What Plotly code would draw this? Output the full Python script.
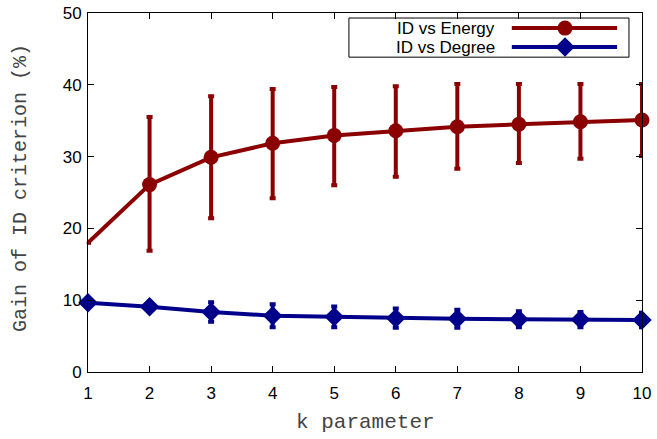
import plotly.graph_objects as go

k_values = [1, 2, 3, 4, 5, 6, 7, 8, 9, 10]

energy_mean = [18.0, 26.1, 29.9, 31.85, 32.95, 33.6, 34.15, 34.5, 34.85, 35.1]
energy_err_up = [0.0, 9.4, 8.5, 7.55, 6.75, 6.2, 5.95, 5.6, 5.25, 5.0]
energy_err_down = [0.0, 9.2, 8.5, 7.65, 6.95, 6.4, 5.85, 5.4, 5.15, 5.0]

degree_mean = [9.64, 9.08, 8.35, 7.85, 7.68, 7.5, 7.42, 7.35, 7.3, 7.25]
degree_err = [0.0, 0.6, 1.35, 1.6, 1.45, 1.35, 1.25, 1.1, 1.05, 1.0]

series_names = ["ID vs Energy", "ID vs Degree"]
x_title = "k parameter"
y_title = "Gain of ID criterion (%)"
y_ticks = [0, 10, 20, 30, 40, 50]

RED = "#8B0000"
BLUE = "#00008B"

fig = go.Figure()

fig.add_trace(go.Scatter(
    x=k_values, y=energy_mean, mode="lines+markers", name=series_names[0],
    line=dict(color=RED, width=4),
    marker=dict(color=RED, size=[3] + [15] * 9, symbol="circle", opacity=1,
                line=dict(width=0)),
    error_y=dict(type="data", symmetric=False, array=energy_err_up,
                 arrayminus=energy_err_down, color=RED, thickness=4, width=3),
    showlegend=False, cliponaxis=False,
))

fig.add_trace(go.Scatter(
    x=k_values, y=degree_mean, mode="lines+markers", name=series_names[1],
    line=dict(color=BLUE, width=4),
    marker=dict(color=BLUE, size=15, symbol="diamond", opacity=1, line=dict(width=0)),
    error_y=dict(type="data", array=degree_err, color=BLUE, thickness=4, width=3),
    showlegend=False, cliponaxis=False,
))

# custom legend (text right-aligned, sample on right, like gnuplot)
leg_rows = [0.958, 0.905]
leg_colors = [RED, BLUE]
leg_symbols = ["circle", "diamond"]
lx0, lx1, lmark = 0.765, 0.955, 0.861
for i, name in enumerate(series_names):
    fig.add_trace(go.Scatter(
        x=[lx0, lx1], y=[leg_rows[i]] * 2, xaxis="x2", yaxis="y2",
        mode="lines", line=dict(color=leg_colors[i], width=4),
        showlegend=False, hoverinfo="skip", cliponaxis=False,
    ))
    fig.add_trace(go.Scatter(
        x=[lmark], y=[leg_rows[i]], xaxis="x2", yaxis="y2",
        mode="markers",
        marker=dict(color=leg_colors[i], size=15, symbol=leg_symbols[i], opacity=1,
                    line=dict(width=0)),
        showlegend=False, hoverinfo="skip", cliponaxis=False,
    ))
    fig.add_annotation(x=0.738, y=leg_rows[i], xref="paper", yref="paper",
                       text=name, showarrow=False, xanchor="right", yanchor="middle",
                       font=dict(family="Liberation Sans, Arial", size=17, color="black"))

fig.add_shape(type="rect", xref="paper", yref="paper", x0=0.471, x1=0.9765,
              y0=0.877, y1=0.986, line=dict(color="black", width=1), layer="above")

fig.add_annotation(x=0.5, y=-0.142, xref="paper", yref="paper", text=x_title,
                   showarrow=False, xanchor="center", yanchor="middle",
                   font=dict(family="Liberation Mono, Courier New, monospace", size=21, color="#444"))
fig.add_annotation(x=-0.1227, y=0.5125, xref="paper", yref="paper", text=y_title,
                   showarrow=False, xanchor="center", yanchor="middle", textangle=-90,
                   font=dict(family="Liberation Mono, Courier New, monospace", size=20, color="#444"))

axis_common = dict(showgrid=False, zeroline=False, showline=True, linecolor="black",
                   linewidth=1, ticks="inside", ticklen=6, tickcolor="black",
                   mirror="ticks", ticklabeloverflow="allow", automargin=False,
                   tickfont=dict(family="Liberation Sans, Arial", size=17, color="black"))

fig.update_layout(
    width=657, height=439,
    margin=dict(l=88, r=15, t=13, b=67),
    plot_bgcolor="white", paper_bgcolor="white",
    xaxis=dict(range=[1, 10], tickvals=k_values, ticklabelstandoff=6, **axis_common),
    yaxis=dict(range=[0, 50], tickvals=y_ticks, ticklabelstandoff=2, **axis_common),
    xaxis2=dict(range=[0, 1], overlaying="x", visible=False, fixedrange=True),
    yaxis2=dict(range=[0, 1], overlaying="y", visible=False, fixedrange=True),
    showlegend=False,
)

# remove the default 8px page margin so the figure fills the window exactly
fig.write_html("out.html", config={"displayModeBar": False},
               post_script="document.body.style.margin='0';")
